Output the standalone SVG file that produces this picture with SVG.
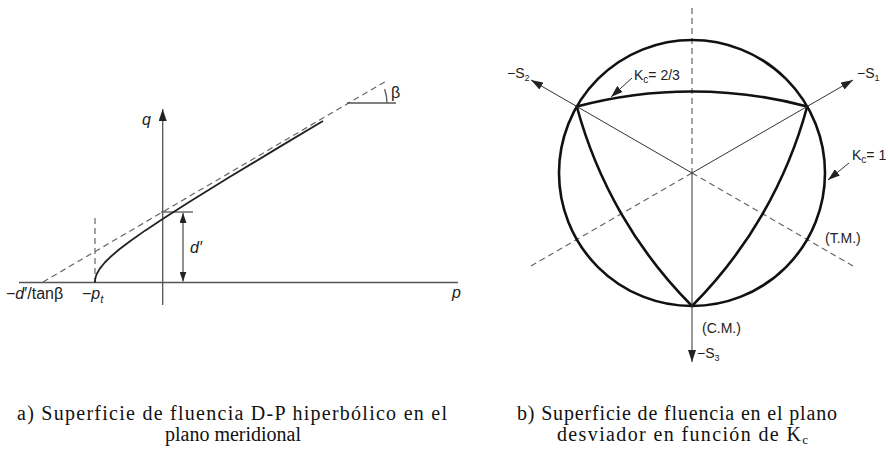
<svg xmlns="http://www.w3.org/2000/svg" width="888" height="461" viewBox="0 0 888 461">
<style>
.sans{font-family:"Liberation Sans",Arial,sans-serif;fill:#222}
.serif{font-family:"Liberation Serif","Times New Roman",serif;fill:#111;font-size:20px}
.ax{stroke:#555;stroke-width:1.3;fill:none}
.dash{stroke:#666;stroke-width:1.2;fill:none;stroke-dasharray:6 4}
.thick{stroke:#111;stroke-width:2.6;fill:none}
.thin{stroke:#333;stroke-width:1;fill:none}
</style>
<defs>
<marker id="ah" viewBox="0 0 12 8" refX="12" refY="4" markerWidth="12" markerHeight="8" markerUnits="userSpaceOnUse" orient="auto">
<path d="M0,0 L12,4 L0,8 Z" fill="#222"/>
</marker>
<marker id="ahs" viewBox="0 0 10 7" refX="10" refY="3.5" markerWidth="10" markerHeight="7" markerUnits="userSpaceOnUse" orient="auto">
<path d="M0,0 L10,3.5 L0,7 Z" fill="#222"/>
</marker>
</defs>
<rect width="888" height="461" fill="#fff"/>

<g id="left">
<g id="axes">
<line class="ax" x1="19" y1="282.5" x2="458" y2="282.5"/>
<line class="ax" x1="162.7" y1="305" x2="162.7" y2="109" marker-end="url(#ah)"/>
</g>
<g id="connectors">
<line class="dash" x1="43" y1="282" x2="388" y2="80"/>
<line class="dash" x1="95" y1="218" x2="95" y2="282"/>
<line class="ax" x1="347" y1="103" x2="396" y2="103"/>
<path class="ax" d="M387,103 A40,40 0 0 0 384.6,89.3"/>
<line class="ax" x1="161" y1="212" x2="193" y2="212"/>
<line class="ax" x1="183" y1="247" x2="183" y2="213" marker-end="url(#ahs)"/>
<line class="ax" x1="183" y1="247" x2="183" y2="281.5" marker-end="url(#ahs)"/>
</g>
<path id="hyperbola" d="M95,282.5 L95.25,279 L95.5,277.8 L96,276 L97,273.5 L100,268.35 L105,262.24 L110,257.27 L120,248.76 L130,241.16 L145,230.63 L163,218.68 L190,201.5 L230,176.83 L280,146.62 L323,120.91" fill="none" stroke="#222" stroke-width="1.8" stroke-linejoin="round"/>
<text class="sans" x="142" y="125" font-size="16" font-style="italic">q</text>
<text class="sans" x="452" y="298" font-size="16" font-style="italic">p</text>
<text class="sans" x="6" y="299" font-size="16">−<tspan font-style="italic">d</tspan>′/tanβ</text>
<text class="sans" x="82" y="299" font-size="16">−<tspan font-style="italic">p</tspan><tspan font-size="11" dy="4" font-style="italic">t</tspan></text>
<text class="sans" x="190" y="253" font-size="16" font-style="italic">d′</text>
<text class="sans" x="391" y="98" font-size="16">β</text>
</g>

<g id="right">
<g id="guides">
<line class="dash" x1="692" y1="8" x2="692" y2="173"/>
<line class="dash" x1="692" y1="173" x2="531" y2="266"/>
<line class="dash" x1="692" y1="173" x2="853" y2="266"/>
</g>
<g id="circle-node">
<circle class="thick" cx="692" cy="173" r="133"/>
</g>
<g id="kc23-node">
<path class="thick" d="M576.8,106.5 A448,448 0 0 1 807.2,106.5 A448,448 0 0 1 692,306 A448,448 0 0 1 576.8,106.5 Z" stroke-linejoin="miter"/>
</g>
<g id="axes-right">
<line class="thin" x1="692" y1="173" x2="531" y2="80" marker-end="url(#ah)"/>
<line class="thin" x1="692" y1="173" x2="853" y2="80" marker-end="url(#ah)"/>
<line class="thin" x1="692" y1="173" x2="692" y2="362" marker-end="url(#ah)"/>
<line class="thin" x1="632" y1="78" x2="611" y2="97" marker-end="url(#ah)"/>
<line class="thin" x1="849" y1="163" x2="828" y2="180" marker-end="url(#ah)"/>
</g>
<text class="sans" x="507" y="78" font-size="14">−S<tspan font-size="9" dy="3">2</tspan></text>
<text class="sans" x="857" y="78" font-size="14">−S<tspan font-size="9" dy="3">1</tspan></text>
<text class="sans" x="634" y="80" font-size="14">K<tspan font-size="10" dy="3">c</tspan><tspan dy="-3">= 2/3</tspan></text>
<text class="sans" x="852" y="160" font-size="14">K<tspan font-size="10" dy="3">c</tspan><tspan dy="-3">= 1</tspan></text>
<text class="sans" x="825" y="243" font-size="14">(T.M.)</text>
<text class="sans" x="702" y="333" font-size="14">(C.M.)</text>
<text class="sans" x="697" y="358" font-size="14">−S<tspan font-size="9" dy="3">3</tspan></text>
</g>

<g id="captions">
<text class="serif" x="17" y="420" textLength="430" lengthAdjust="spacing">a) Superficie de fluencia D-P hiperbólico en el</text>
<text class="serif" x="233" y="441" text-anchor="middle">plano meridional</text>
<text class="serif" x="517" y="420" textLength="320" lengthAdjust="spacing">b) Superficie de fluencia en el plano</text>
<text class="serif" x="557" y="441" textLength="251" lengthAdjust="spacing">desviador en función de K<tspan font-size="13" dy="3">c</tspan></text>
</g>
</svg>
